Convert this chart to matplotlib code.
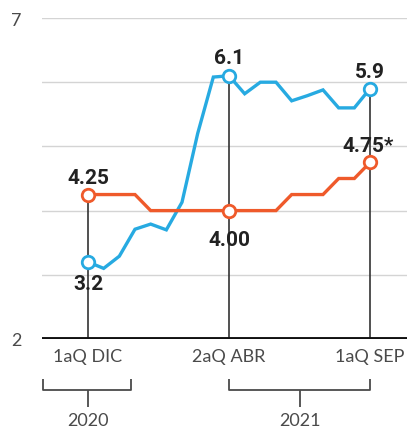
import matplotlib
matplotlib.use("Agg")
import matplotlib.pyplot as plt

# Data: biweekly periods (quincenas) from 1aQ Dic 2020 to 1aQ Sep 2021
periods = ["1aQ DIC", "2aQ DIC", "1aQ ENE", "2aQ ENE", "1aQ FEB", "2aQ FEB",
           "1aQ MAR", "2aQ MAR", "1aQ ABR", "2aQ ABR", "1aQ MAY", "2aQ MAY",
           "1aQ JUN", "2aQ JUN", "1aQ JUL", "2aQ JUL", "1aQ AGO", "2aQ AGO",
           "1aQ SEP"]
inflation = [3.2, 3.1, 3.29, 3.71, 3.79, 3.70, 4.13, 5.2, 6.08, 6.1,
             5.82, 6.0, 6.0, 5.71, 5.79, 5.88, 5.6, 5.6, 5.9]
rate = [4.25, 4.25, 4.25, 4.25, 4.0, 4.0, 4.0, 4.0, 4.0, 4.0,
        4.0, 4.0, 4.0, 4.25, 4.25, 4.25, 4.5, 4.5, 4.75]
highlight_idx = [0, 9, 18]
tick_labels = ["1aQ DIC", "2aQ ABR", "1aQ SEP"]
blue_labels = ["3.2", "6.1", "5.9"]
red_labels = ["4.25", "4.00", "4.75*"]
years = ["2020", "2021"]

BLUE = "#27aae1"
RED = "#ef5a2b"
GRAY = "#4a4a4a"

fig = plt.figure(figsize=(4.07, 4.39), dpi=100)
ax = fig.add_axes([42/407, 99/439, 365/407, 321/439])
x = list(range(len(periods)))
step = (370 - 88) / 18.0
ax.set_xlim((42 - 88) / step, (407 - 88) / step)
ax.set_ylim(2, 7)

for s in ax.spines.values():
    s.set_visible(False)
ax.set_xticks([])
ax.set_yticks([2, 7])
ax.set_yticklabels(["2", "7"], fontsize=13, color=GRAY, family="Lato")
ax.tick_params(axis="y", length=0, pad=15)

for g in [3, 4, 5, 6, 7]:
    ax.axhline(g, color="#d4d4d4", lw=1.0, zorder=0)
ax.axhline(2, color="#111111", lw=2.8, zorder=5)

# vertical reference lines
tops = [max(inflation[i], rate[i]) for i in highlight_idx]
for i, t in zip(highlight_idx, tops):
    ax.plot([i, i], [2, t], color="#333333", lw=1.2, zorder=2)

ax.plot(x, inflation, color=BLUE, lw=2.4, zorder=3, solid_joinstyle="miter")
ax.plot(x, rate, color=RED, lw=2.4, zorder=3, solid_joinstyle="miter")
ax.plot(highlight_idx, [inflation[i] for i in highlight_idx], "o", ms=9,
        mfc="white", mec=BLUE, mew=2.0, zorder=4)
ax.plot(highlight_idx, [rate[i] for i in highlight_idx], "o", ms=9,
        mfc="white", mec=RED, mew=2.0, zorder=4)

ppu = 321 / 5.0  # pixels per unit
def py(pix):
    return 2 + (340 - pix) / ppu

lab_kw = dict(ha="center", va="center", fontsize=15, fontweight="bold",
              color="#222222", family="Roboto", zorder=6)
# blue labels
ax.text(0, py(285), blue_labels[0], **lab_kw)
ax.text(9, py(59), blue_labels[1], **lab_kw)
ax.text(18, py(72), blue_labels[2], **lab_kw)
# red labels
ax.text(0, py(179), red_labels[0], **lab_kw)
ax.text(9, py(240), red_labels[1], **lab_kw)
ax.text(17.9, py(147), red_labels[2], **lab_kw)

# x tick labels
for i, lab in zip(highlight_idx, tick_labels):
    ax.text(i, py(357), lab, ha="center", va="center", fontsize=13,
            color=GRAY, family="Lato", clip_on=False)

# year brackets
def bracket(x0, x1, xc, label):
    kw = dict(color=GRAY, lw=1.3, clip_on=False, solid_capstyle="butt")
    ax.plot([x0, x0, x1, x1], [py(380), py(391), py(391), py(380)], **kw)
    ax.plot([xc, xc], [py(391), py(408)], **kw)
    ax.text(xc, py(421), label, ha="center", va="center", fontsize=13,
            color=GRAY, family="Lato", clip_on=False)

bracket((43 - 88) / step, (131 - 88) / step, 0, years[0])
bracket(9, 18, 13.5, years[1])

fig.savefig("out.png", dpi=100)
